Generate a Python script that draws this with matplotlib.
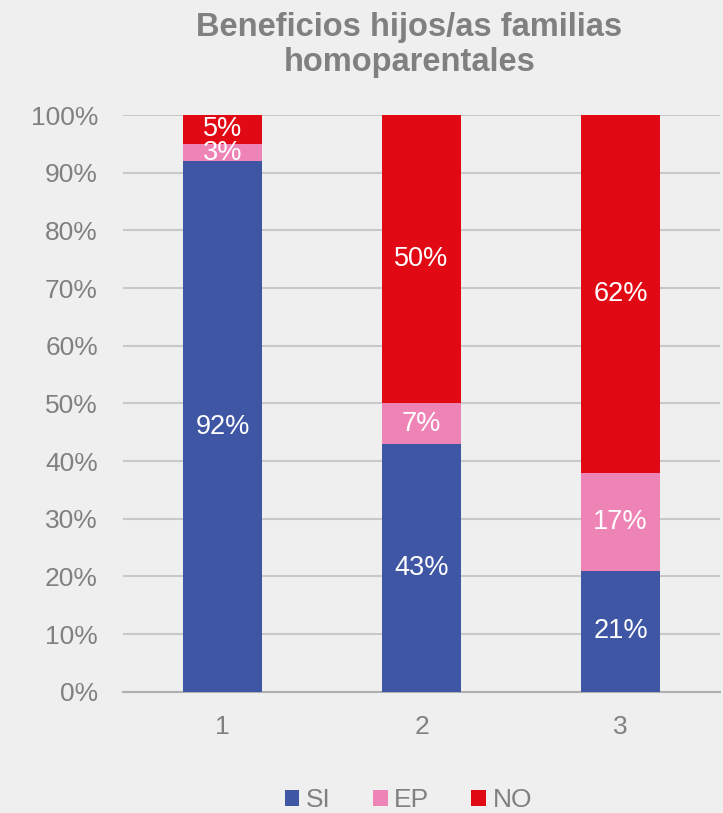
import matplotlib.pyplot as plt
import numpy as np

plt.rcParams['font.family'] = ['Liberation Sans', 'DejaVu Sans']

categories = ['1', '2', '3']
si = [92, 43, 21]
ep = [3, 7, 17]
no = [5, 50, 62]

bg = '#efefef'
grey = '#808080'
colors = {'SI': '#3f56a4', 'EP': '#ee84b6', 'NO': '#e00914'}

fig = plt.figure(figsize=(7.23, 8.13), dpi=100, facecolor=bg)
ax = fig.add_axes([0.170, 0.149, 0.826, 0.7095], facecolor=bg)

x = np.arange(len(categories))
w = 0.4
bottom = np.zeros(len(categories))
for name, vals in [('SI', si), ('EP', ep), ('NO', no)]:
    vals = np.array(vals)
    ax.bar(x, vals, w, bottom=bottom, color=colors[name], label=name, zorder=3)
    for xi, b, v in zip(x, bottom, vals):
        ax.text(xi, b + v / 2, f'{v}%', ha='center', va='center',
                color='white', fontsize=19.5, zorder=4)
    bottom += vals

ax.set_xlim(-0.5, 2.5)
ax.set_ylim(0, 100)
ax.set_yticks(range(0, 101, 10))
ax.set_yticklabels([f'{t}%' for t in range(0, 101, 10)])
ax.set_xticks(x)
ax.set_xticklabels(categories)
ax.tick_params(length=0, labelsize=19, labelcolor=grey)
ax.tick_params(axis='y', pad=18)
ax.tick_params(axis='x', pad=17)
ax.grid(axis='y', color='#c8c8c8', linewidth=1.5, zorder=0)
for s in ['top', 'right', 'left']:
    ax.spines[s].set_visible(False)
ax.spines['bottom'].set_color('#b0b0b0')
ax.spines['bottom'].set_linewidth(1.5)

fig.text(0.566, 0.945, 'Beneficios hijos/as familias\nhomoparentales', ha='center',
         va='center', fontsize=23.5, fontweight='bold', color=grey, linespacing=1.15)

fig.legend(loc='center', bbox_to_anchor=(0.565, 0.016), ncol=3, frameon=False,
           fontsize=19, labelcolor=grey, handlelength=0.55, handleheight=0.55,
           handletextpad=0.25, columnspacing=1.6)

fig.savefig('out.png', dpi=100, facecolor=bg)
